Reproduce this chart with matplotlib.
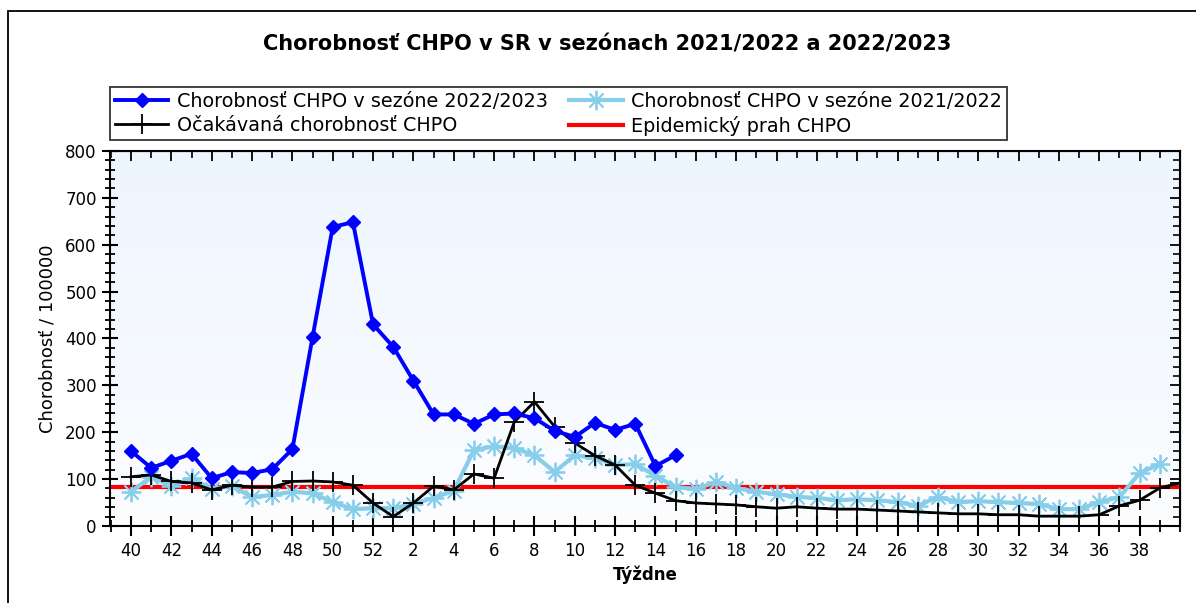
import numpy as np
import matplotlib
matplotlib.use("Agg")
import matplotlib.pyplot as plt
from matplotlib.colors import LinearSegmentedColormap
from matplotlib.patches import Rectangle
from matplotlib.lines import Line2D

plt.rcParams['font.family'] = ['DejaVu Sans']

# weeks of the season: 40..52, then 1..39
weeks = list(range(40, 53)) + list(range(1, 40))

# Chorobnost CHPO v sezone 2022/2023 (weeks 40..15)
s2223 = [160, 124, 139, 154, 102, 115, 113, 121, 164, 403, 638, 648, 430,
         382, 310, 238, 238, 218, 238, 240, 230, 203, 190, 220, 205, 218, 128, 151]

# Chorobnost CHPO v sezone 2021/2022 (weeks 40..39)
s2122 = [73, 105, 85, 102, 79, 85, 62, 66, 73, 70, 51, 36, 38,
         38, 47, 60, 75, 162, 170, 166, 151, 115, 151, 145, 130, 132, 107, 83,
         79, 94, 81, 73, 68, 62, 60, 55, 57, 55, 51, 43, 62, 51, 53, 51, 49,
         47, 36, 36, 51, 62, 113, 132]

# Ocakavana chorobnost (weeks 40..39 plus next week 40)
expected = [105, 109, 95, 92, 77, 87, 83, 83, 95, 96, 94, 87, 49,
            20, 49, 85, 77, 111, 102, 222, 265, 212, 177, 150, 130, 87, 70, 54,
            49, 47, 45, 41, 38, 41, 38, 36, 36, 34, 32, 30, 28, 26, 26, 24, 24,
            21, 21, 21, 24, 43, 55, 81, 92]

threshold = 83

fig = plt.figure(figsize=(11.96, 6.03), dpi=100)
ax = fig.add_axes([0.092, 0.1277, 0.8946, 0.6219])

# light gradient background
cmap = LinearSegmentedColormap.from_list('bg', ['#fcfdff', '#edf5fe'])
ax.imshow(np.linspace(0, 1, 256).reshape(-1, 1), cmap=cmap, aspect='auto',
          extent=[0, 1, 0, 1], transform=ax.transAxes, origin='lower', zorder=0)

ax.axhline(threshold, color='#ff0000', lw=3, zorder=2)
ax.plot(np.arange(len(s2122)), s2122, color='#87ceeb', lw=3,
        marker=(8, 2, 0), ms=14, mew=1.3, zorder=3)
ax.plot(np.arange(len(expected)), expected, color='black', lw=2,
        marker='+', ms=14, mew=1.3, zorder=4)
ax.plot(np.arange(len(s2223)), s2223, color='#0000ff', lw=2.8,
        marker='D', ms=7, zorder=5)

ax.set_xlim(-1.04, 52)
ax.set_ylim(0, 800)

ax.set_xticks(np.arange(0, 52, 2))
ax.set_xticklabels([str(w) for w in weeks[::2]], fontsize=12)
ax.set_xticks(np.arange(-1, 53), minor=True)
ax.set_yticks(np.arange(0, 801, 100))
ax.set_yticks(np.arange(0, 801, 20), minor=True)
ax.tick_params(axis='y', which='major', labelsize=12, direction='inout', length=12, width=1.5)
ax.tick_params(axis='y', which='minor', direction='inout', length=7, width=1.3)
ax.tick_params(axis='x', which='major', direction='inout', length=15, width=1.5, pad=4)
ax.tick_params(axis='x', which='minor', direction='inout', length=8, width=1.3)
for sp in ax.spines.values():
    sp.set_linewidth(1.5)

# inward ticks on top and right
top = ax.secondary_xaxis('top')
top.set_xticks(np.arange(0, 53, 2))
top.set_xticks(np.arange(-1, 53), minor=True)
top.tick_params(which='major', direction='in', length=7, width=1.3, labeltop=False)
top.tick_params(which='minor', direction='in', length=5, width=1.2)
right = ax.secondary_yaxis('right')
right.set_yticks(np.arange(0, 801, 100))
right.set_yticks(np.arange(0, 801, 20), minor=True)
right.tick_params(which='major', direction='in', length=7, width=1.3, labelright=False)
right.tick_params(which='minor', direction='in', length=5, width=1.2)

ax.set_xlabel('Týždne', fontsize=12, fontweight='bold', labelpad=4)
ax.set_ylabel('Chorobnosť / 100000', fontsize=13, labelpad=6)

fig.text(0.508, 1 - 45 / 603, 'Chorobnosť CHPO v SR v sezónach 2021/2022 a 2022/2023',
         ha='center', va='center', fontsize=15, fontweight='bold')

handles = [
    Line2D([], [], color='#0000ff', lw=2.8, marker='D', ms=7),
    Line2D([], [], color='black', lw=2, marker='+', ms=14, mew=1.3),
    Line2D([], [], color='#87ceeb', lw=3, marker=(8, 2, 0), ms=14, mew=1.3),
    Line2D([], [], color='#ff0000', lw=3),
]
labels = ['Chorobnosť CHPO v sezóne 2022/2023', 'Očakávaná chorobnosť CHPO',
          'Chorobnosť CHPO v sezóne 2021/2022', 'Epidemický prah CHPO']
leg = fig.legend(handles, labels, ncol=2, loc='upper left',
                 bbox_to_anchor=(110 / 1196, 1 - 87 / 603), fontsize=13.8,
                 frameon=True, fancybox=False, edgecolor='black',
                 handlelength=2.8, handletextpad=0.45, columnspacing=1.1,
                 borderpad=0.25, labelspacing=0.25, borderaxespad=0)
leg.get_frame().set_linewidth(1.3)

# outer frame of the picture
fig.add_artist(Rectangle((8 / 1196, -0.2), 2, 1.2 - 11 / 603, transform=fig.transFigure,
                         fill=False, edgecolor='black', lw=1.3))

fig.savefig('out.png', dpi=100)
